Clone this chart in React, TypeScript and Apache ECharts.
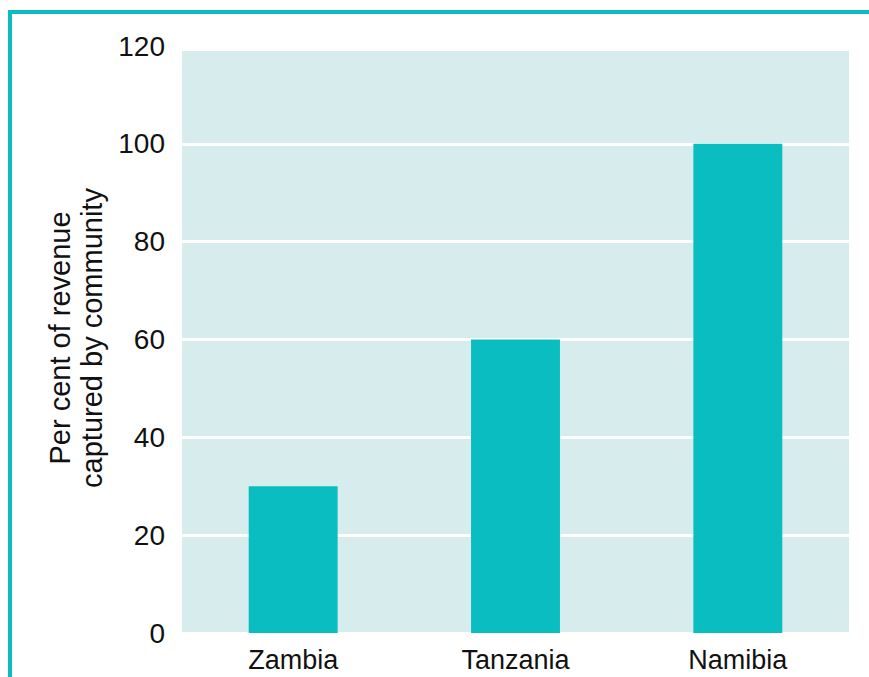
import React, { useEffect, useRef } from "react";
import * as echarts from "echarts";

const categories = ["Zambia", "Tanzania", "Namibia"];
const values = [30, 60, 100];
const yTicks = [0, 20, 40, 60, 80, 100, 120];
const yTitle = ["Per cent of revenue", "captured by community"];

export default function App() {
  const ref = useRef<HTMLDivElement>(null);
  useEffect(() => {
    if (!ref.current) return;
    const chart = echarts.init(ref.current, null, { renderer: "svg" });
    const font = "Liberation Sans, Arial, Helvetica, sans-serif";
    chart.setOption({
      animation: false,
      backgroundColor: "#ffffff",
      grid: {
        left: 182,
        top: 46,
        right: 20,
        bottom: 44,
        show: false,
      },
      xAxis: {
        type: "category",
        data: categories,
        axisLine: { show: false },
        axisTick: { show: false },
        axisLabel: {
          color: "#111",
          fontSize: 27,
          fontFamily: font,
          margin: 13,
        },
      },
      yAxis: {
        type: "value",
        min: yTicks[0],
        max: yTicks[yTicks.length - 1],
        interval: 20,
        axisLine: { show: false },
        axisTick: { show: false },
        splitLine: { lineStyle: { color: "#ffffff", width: 3 } },
        axisLabel: {
          color: "#111",
          fontSize: 28,
          fontFamily: font,
          margin: 17,
        },
      },
      graphic: [
        {
          type: "rect",
          z: -10,
          shape: { x: 182, y: 51, width: 667, height: 582 },
          style: { fill: "#d6eced" },
          silent: true,
        },
        {
          type: "rect",
          shape: { x: 10, y: 12, width: 900, height: 700 },
          style: { fill: "none", stroke: "#0bbdc1", lineWidth: 4 },
          silent: true,
        },
        {
          type: "text",
          x: 76,
          y: 338,
          rotation: Math.PI / 2,
          style: {
            text: yTitle.join("\n"),
            fontSize: 29,
            fontFamily: font,
            fill: "#111",
            align: "center",
            verticalAlign: "middle",
            lineHeight: 32,
          },
        },
      ],
      series: [
        {
          type: "bar",
          data: values,
          barWidth: "40%",
          itemStyle: { color: "#0abdc1" },
        },
      ],
    });
    return () => chart.dispose();
  }, []);
  return (
    <div
      ref={ref}
      style={{ position: "fixed", left: 0, top: 0, width: 869, height: 677 }}
    />
  );
}
